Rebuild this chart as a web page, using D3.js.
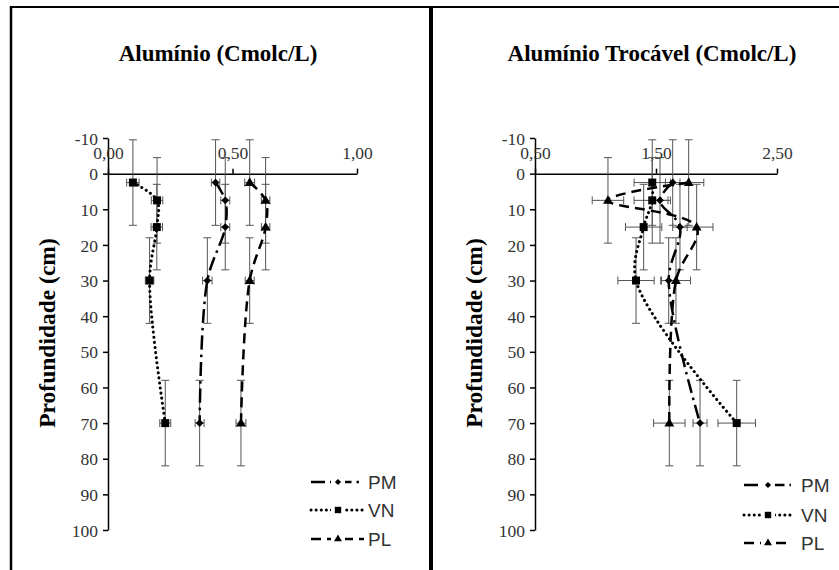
<!DOCTYPE html>
<html>
<head>
<meta charset="utf-8">
<script src="https://cdn.jsdelivr.net/npm/d3@7"></script>
<style>
  body { margin: 0; background: #fff; }
  svg { display: block; }
</style>
</head>
<body>
<div id="chart"></div>
<script>
var width = 839;
var height = 570;

// depth (cm) of each sample and its vertical error
const depths = [2.5, 7.5, 15, 30, 70];
const depthErr = 12;
const yTicks = [-10, 0, 10, 20, 30, 40, 50, 60, 70, 80, 90, 100];
const seriesNames = ["PM", "VN", "PL"];

// Alumínio (Cmolc/L)
const alPM = [0.432, 0.471, 0.471, 0.399, 0.368];
const alVN = [0.100, 0.197, 0.196, 0.167, 0.230];
const alPL = [0.569, 0.633, 0.633, 0.569, 0.534];
const alPMErr = [0.017, 0.018, 0.018, 0.019, 0.018];
const alVNErr = [0.025, 0.023, 0.023, 0.017, 0.022];
const alPLErr = [0.020, 0.017, 0.017, 0.018, 0.020];
const alTicks = [0, 0.5, 1];

// Alumínio Trocável (Cmolc/L)
const trPM = [1.638, 1.533, 1.698, 1.605, 1.864];
const trVN = [1.469, 1.469, 1.398, 1.335, 2.167];
const trPL = [1.770, 1.103, 1.836, 1.665, 1.610];
const trPMErr = [0.060, 0.066, 0.060, 0.066, 0.058];
const trVNErr = [0.150, 0.150, 0.150, 0.150, 0.155];
const trPLErr = [0.125, 0.130, 0.135, 0.120, 0.130];
const trTicks = [0.5, 1.5, 2.5];

var svg = d3.select("#chart")
    .append("svg")
    .attr("width", width)
    .attr("height", height);

// frame lines
svg.append("line").attr("x1", 10).attr("x2", width).attr("y1", 7).attr("y2", 7)
    .attr("stroke", "#000").attr("stroke-width", 2);
svg.append("line").attr("x1", 11).attr("x2", 11).attr("y1", 6).attr("y2", height)
    .attr("stroke", "#000").attr("stroke-width", 2.5);
svg.append("line").attr("x1", 431).attr("x2", 431).attr("y1", 6).attr("y2", height)
    .attr("stroke", "#000").attr("stroke-width", 4);

const styles = {
    PM: { dash: "14,5,2.5,5", symbol: "diamond" },
    VN: { dash: "0.1,5", symbol: "square" },
    PL: { dash: "10,6", symbol: "triangle" }
};
const serif = "'Liberation Serif', 'Times New Roman', serif";

function marker(sel, kind) {
    if (kind === "square") {
        sel.append("path").attr("d", d3.symbol(d3.symbolSquare, 64)());
    } else if (kind === "diamond") {
        sel.append("path").attr("d", d3.symbol(d3.symbolSquare, 30)())
            .attr("transform", "rotate(45)");
    } else {
        sel.append("path").attr("d", d3.symbol(d3.symbolTriangle, 42)())
            .attr("transform", "translate(0,0.5)");
    }
    sel.selectAll("path").attr("fill", "#000");
}

function drawPanel(p) {
    var x = d3.scaleLinear().domain(p.xDomain).range(p.xRange);
    var y = d3.scaleLinear().domain([-10, 100]).range([138, 530]);
    var g = svg.append("g");

    // title
    g.append("text")
        .attr("x", p.titleX).attr("y", 61)
        .attr("text-anchor", "middle")
        .style("font-family", serif)
        .style("font-weight", "bold")
        .style("font-size", "23px")
        .text(p.title);

    // y label
    g.append("text")
        .attr("transform", "translate(" + p.ylabelX + ",333) rotate(-90)")
        .attr("text-anchor", "middle")
        .style("font-family", serif)
        .style("font-weight", "bold")
        .style("font-size", "23.5px")
        .text("Profundidade (cm)");

    // y axis
    var yAxis = g.append("g")
        .attr("transform", "translate(" + p.xRange[0] + ",0)")
        .call(d3.axisLeft(y).tickValues(yTicks).tickSize(5).tickPadding(5).tickSizeOuter(0)
            .tickFormat(d => String(d)));
    // x axis across depth 0, labels above
    var xAxis = g.append("g")
        .attr("transform", "translate(0," + y(0) + ")")
        .call(d3.axisTop(x).tickValues(p.xTicks).tickSize(5).tickPadding(10).tickSizeOuter(0)
            .tickFormat(d => d.toFixed(2).replace(".", ",")));
    [yAxis, xAxis].forEach(a => {
        a.select(".domain").attr("stroke", "#000").attr("stroke-width", 1.5);
        a.selectAll(".tick line").attr("stroke", "#000").attr("stroke-width", 1.5);
        a.selectAll(".tick text")
            .attr("fill", "#333")
            .style("font-family", serif)
            .style("font-size", "17.5px");
    });
    yAxis.selectAll(".tick text").attr("dy", "0.35em");

    // error bars
    var eb = g.append("g").attr("stroke", "#555").attr("stroke-width", 1);
    p.series.forEach(s => {
        depths.forEach((d, i) => {
            var cx = x(s.values[i]), cy = y(d);
            var y1 = y(d - depthErr), y2 = y(d + depthErr);
            eb.append("line").attr("x1", cx).attr("x2", cx).attr("y1", y1).attr("y2", y2);
            eb.append("line").attr("x1", cx - 4).attr("x2", cx + 4).attr("y1", y1).attr("y2", y1);
            eb.append("line").attr("x1", cx - 4).attr("x2", cx + 4).attr("y1", y2).attr("y2", y2);
            var x1 = x(s.values[i] - s.err[i]), x2 = x(s.values[i] + s.err[i]);
            eb.append("line").attr("x1", x1).attr("x2", x2).attr("y1", cy).attr("y2", cy);
            eb.append("line").attr("x1", x1).attr("x2", x1).attr("y1", cy - 4).attr("y2", cy + 4);
            eb.append("line").attr("x1", x2).attr("x2", x2).attr("y1", cy - 4).attr("y2", cy + 4);
        });
    });

    // smoothed lines
    var line = d3.line()
        .x(d => x(d[0]))
        .y(d => y(d[1]))
        .curve(d3.curveCatmullRom.alpha(0.5));
    p.series.forEach(s => {
        var pts = depths.map((d, i) => [s.values[i], d]);
        g.append("path")
            .attr("d", line(pts))
            .attr("fill", "none")
            .attr("stroke", "#000")
            .attr("stroke-width", s.name === "VN" ? 3 : 2.5)
            .attr("stroke-linecap", s.name === "VN" ? "round" : "butt")
            .attr("stroke-dasharray", styles[s.name].dash);
    });

    // markers
    p.series.forEach(s => {
        depths.forEach((d, i) => {
            var m = g.append("g").attr("transform", "translate(" + x(s.values[i]) + "," + y(d) + ")");
            marker(m, styles[s.name].symbol);
        });
    });

    // legend
    seriesNames.forEach((name, i) => {
        var ly = p.legend.rows[i];
        g.append("line")
            .attr("x1", p.legend.x1).attr("x2", p.legend.x2)
            .attr("y1", ly).attr("y2", ly)
            .attr("stroke", "#000")
            .attr("stroke-width", name === "VN" ? 3 : 2.5)
            .attr("stroke-linecap", name === "VN" ? "round" : "butt")
            .attr("stroke-dasharray", styles[name].dash);
        var m = g.append("g").attr("transform", "translate(" + p.legend.mx + "," + ly + ")");
        m.append("rect").attr("x", -7).attr("y", -6).attr("width", 14).attr("height", 12).attr("fill", "#fff");
        marker(m, styles[name].symbol);
        m.selectAll("path").attr("transform", function() {
            return name === "PM" ? "rotate(45) scale(0.8)" : "scale(0.8)";
        });
        g.append("text")
            .attr("x", p.legend.tx).attr("y", ly + 7)
            .attr("fill", "#333")
            .style("font-family", "'Liberation Sans', Arial, sans-serif")
            .style("font-size", "19px")
            .text(name);
    });
}

drawPanel({
    title: "Alumínio (Cmolc/L)",
    titleX: 218,
    ylabelX: 55,
    xDomain: [0, 1],
    xRange: [108, 357],
    xTicks: alTicks,
    series: [
        { name: "PM", values: alPM, err: alPMErr },
        { name: "VN", values: alVN, err: alVNErr },
        { name: "PL", values: alPL, err: alPLErr }
    ],
    legend: { x1: 311, x2: 364, mx: 338, tx: 368, rows: [482, 510, 539] }
});

drawPanel({
    title: "Alumínio Trocável (Cmolc/L)",
    titleX: 652,
    ylabelX: 482,
    xDomain: [0.5, 2.5],
    xRange: [535, 777],
    xTicks: trTicks,
    series: [
        { name: "PM", values: trPM, err: trPMErr },
        { name: "VN", values: trVN, err: trVNErr },
        { name: "PL", values: trPL, err: trPLErr }
    ],
    legend: { x1: 744, x2: 791, mx: 768, tx: 801, rows: [485, 515, 543] }
});
</script>
</body>
</html>
